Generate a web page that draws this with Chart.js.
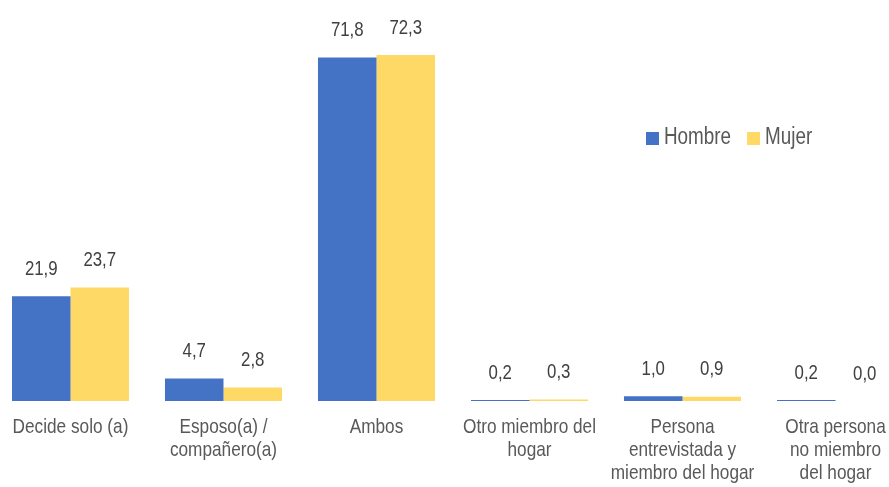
<!DOCTYPE html>
<html>
<head>
<meta charset="utf-8">
<script src="https://cdn.jsdelivr.net/npm/chart.js@4"></script>
<style>
html,body{margin:0;padding:0;background:#fff;overflow:hidden;width:889px;height:487px;}
#wrap{position:absolute;left:-6px;top:0;width:918px;height:487px;}
canvas{display:block;}
</style>
</head>
<body>
<div id="wrap"><canvas id="c" width="918" height="487"></canvas></div>
<script>
const categories = [
  "Decide solo (a)",
  ["Esposo(a) /", "compañero(a)"],
  "Ambos",
  ["Otro miembro del", "hogar"],
  ["Persona", "entrevistada y", "miembro del hogar"],
  ["Otra persona", "no miembro", "del hogar"]
];
const seriesNames = ["Hombre", "Mujer"];
const hombre = [21.9, 4.7, 71.8, 0.2, 1.0, 0.2];
const mujer = [23.7, 2.8, 72.3, 0.3, 0.9, 0.0];
const colors = ["#4472C4", "#FFD966"];

const FONT = "'Liberation Sans Narrow', 'Arial Narrow', 'Liberation Sans', sans-serif";
const SQ = 0.82; // horizontal condensing to mimic a narrow typeface

function narrowText(ctx, txt, x, y) {
  ctx.save();
  ctx.translate(x, y);
  ctx.scale(SQ, 1);
  ctx.fillText(txt, 0, 0);
  ctx.restore();
}

const valueLabels = {
  id: 'valueLabels',
  afterDatasetsDraw(chart) {
    const ctx = chart.ctx;
    ctx.save();
    ctx.font = "20.5px " + FONT;
    ctx.fillStyle = "#404040";
    ctx.textAlign = "center";
    ctx.textBaseline = "middle";
    chart.data.datasets.forEach((ds, di) => {
      const meta = chart.getDatasetMeta(di);
      meta.data.forEach((bar, i) => {
        const txt = ds.data[i].toFixed(1).replace('.', ',');
        narrowText(ctx, txt, bar.x, bar.y - 27);
      });
    });
    ctx.restore();
  }
};

const categoryLabels = {
  id: 'categoryLabels',
  afterDraw(chart) {
    const ctx = chart.ctx;
    const xs = chart.scales.x;
    ctx.save();
    ctx.font = "21px " + FONT;
    ctx.fillStyle = "#595959";
    ctx.textAlign = "center";
    ctx.textBaseline = "middle";
    chart.data.labels.forEach((lab, i) => {
      const lines = Array.isArray(lab) ? lab : [lab];
      const x = xs.getPixelForTick(i);
      lines.forEach((ln, k) => {
        narrowText(ctx, ln, x, chart.chartArea.bottom + 26 + k * 23);
      });
    });
    ctx.restore();
  }
};

const customLegend = {
  id: 'customLegend',
  afterDraw(chart) {
    const ctx = chart.ctx;
    ctx.save();
    ctx.font = "23px " + FONT;
    ctx.textBaseline = "middle";
    ctx.textAlign = "left";
    let x = 652;
    const y = 138;
    chart.data.datasets.forEach((ds) => {
      ctx.fillStyle = ds.backgroundColor;
      ctx.fillRect(x, y - 6, 13, 13);
      ctx.fillStyle = "#595959";
      ctx.save();
      ctx.translate(x + 18, y);
      ctx.scale(SQ, 1);
      ctx.fillText(ds.label, 0, 0);
      ctx.restore();
      x += 18 + ctx.measureText(ds.label).width * SQ + 16;
    });
    ctx.restore();
  }
};

new Chart(document.getElementById('c'), {
  type: 'bar',
  data: {
    labels: categories,
    datasets: [
      { label: seriesNames[0], data: hombre, backgroundColor: colors[0] },
      { label: seriesNames[1], data: mujer, backgroundColor: colors[1] }
    ]
  },
  options: {
    responsive: false,
    animation: false,
    devicePixelRatio: 1,
    layout: { padding: 0 },
    datasets: { bar: { categoryPercentage: 0.765, barPercentage: 1.0 } },
    plugins: { legend: { display: false }, tooltip: { enabled: false } },
    scales: {
      x: {
        grid: { display: false, drawTicks: false },
        border: { display: false },
        ticks: { display: false, autoSkip: false, maxRotation: 0 },
        afterFit(scale) { scale.height = 86; }
      },
      y: {
        display: false,
        min: 0,
        max: 83.8
      }
    }
  },
  plugins: [valueLabels, categoryLabels, customLegend]
});
</script>
</body>
</html>
